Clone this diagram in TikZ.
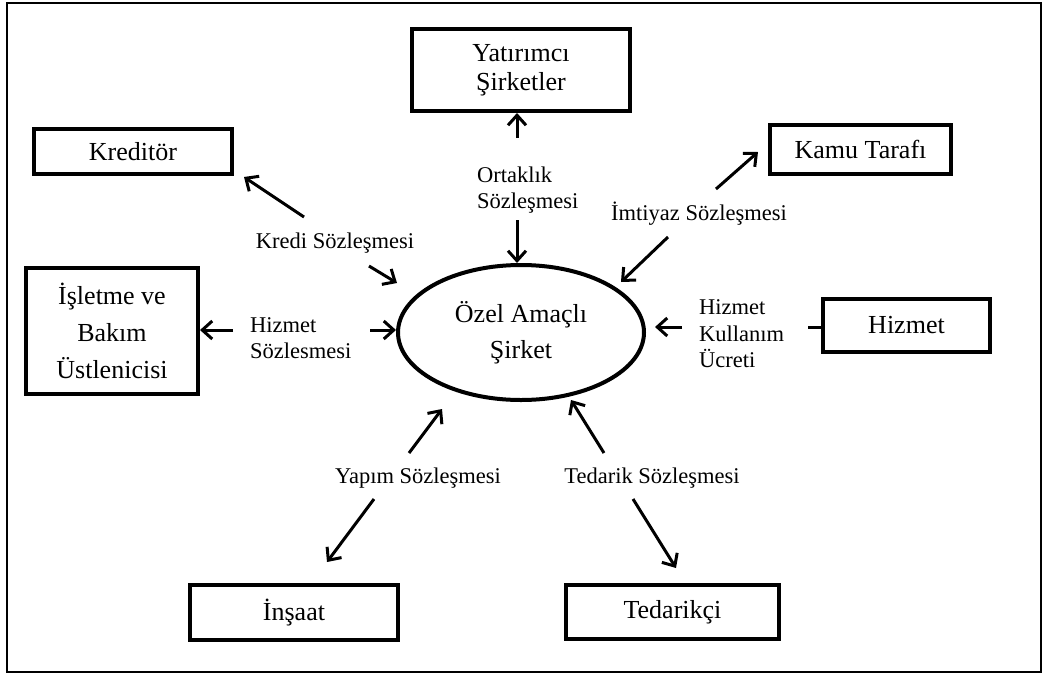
\documentclass[tikz,border=0pt]{standalone}
\usepackage{fontspec}
\setmainfont{Liberation Serif}
\usetikzlibrary{arrows.meta,shapes.geometric}
\tikzset{
  party/.style={draw, line width=4pt, rectangle, inner sep=0pt, align=center,
    font=\fontsize{26}{29}\selectfont},
  hub/.style={draw, line width=4pt, ellipse, inner sep=0pt, align=center,
    minimum width=246pt, minimum height=135pt, font=\fontsize{26}{36}\selectfont},
  lbl/.style={inner sep=0pt, font=\fontsize{22.5}{26.5}\selectfont},
  arr/.style={line width=3pt, -{Straight Barb[length=10pt,width=18pt]}},
  stub/.style={line width=3pt}
}
\begin{document}
\begin{tikzpicture}[x=1pt,y=-1pt]
\useasboundingbox (0,0) rectangle (1047,675);
\draw[line width=2pt] (7,3) rectangle (1041,672);

% nodes
\node[hub] (ell) at (521,332.5) {Özel Amaçlı\\Şirket};
\node[party, minimum width=218pt, minimum height=82pt] (yat) at (521,70) {Yatırımcı\\Şirketler};
\node[party, minimum width=198pt, minimum height=45pt] (kred) at (133,151.5) {Kreditör};
\node[party, minimum width=181pt, minimum height=49pt] (kamu) at (860.5,149.5) {Kamu Tarafı};
\node[party, minimum width=172pt, minimum height=126pt, font=\fontsize{26}{37}\selectfont] (isl) at (112,331) {İşletme ve\\Bakım\\Üstlenicisi};
\node[party, minimum width=167pt, minimum height=53pt] (hiz) at (906.5,325.5) {Hizmet};
\node[party, minimum width=208pt, minimum height=55pt] (ins) at (294,612.5) {İnşaat};
\node[party, minimum width=213pt, minimum height=54pt] (ted) at (672.5,612) {Tedarikçi};

% labels
\node[lbl, align=left, anchor=west] (lort) at (477,190) {Ortaklık\\Sözleşmesi};
\node[lbl, anchor=base] (lkre) at (335,248) {Kredi Sözleşmesi};
\node[lbl, anchor=base] (limt) at (699,220) {İmtiyaz Sözleşmesi};
\node[lbl, align=left, anchor=west] (lhs) at (250,338) {Hizmet\\Sözlesmesi};
\node[lbl, align=left, anchor=west] (lhk) at (699,334) {Hizmet\\Kullanım\\Ücreti};
\node[lbl, anchor=base] (lyap) at (418,483) {Yapım Sözleşmesi};
\node[lbl, anchor=base] (lted) at (652,483) {Tedarik Sözleşmesi};

% connector ends
\coordinate (o1) at (517,138);
\coordinate (o2) at (517,220);
\coordinate (k1) at (304,217);
\coordinate (k1t) at (244,177);
\coordinate (k2) at (369,266);
\coordinate (k2t) at (397,283);
\coordinate (m1) at (716,189);
\coordinate (m1t) at (758,152);
\coordinate (m2) at (668,237);
\coordinate (m2t) at (621,282);
\coordinate (h1) at (233,330);
\coordinate (h2) at (370,330);
\coordinate (s1) at (808,327);
\coordinate (u1) at (682,327);
\coordinate (u1t) at (655,327);
\coordinate (y1) at (409,453);
\coordinate (y1t) at (442,409);
\coordinate (y2) at (374,499);
\coordinate (y2t) at (327,562);
\coordinate (t1) at (604,453);
\coordinate (t1t) at (571,400);
\coordinate (t2) at (633,499);
\coordinate (t2t) at (676,568);

% connectors
\draw[arr] (o1) -- (o1 |- yat.south);
\draw[arr] (o2) -- (o2 |- ell.north);
\draw[arr] (k1) -- (k1t);
\draw[arr] (k2) -- (k2t);
\draw[arr] (m1) -- (m1t);
\draw[arr] (m2) -- (m2t);
\draw[arr] (h1) -- (h1 -| isl.east);
\draw[arr] (h2) -- (h2 -| ell.west);
\draw[stub] (s1) -- (s1 -| hiz.west);
\draw[arr] (u1) -- (u1t);
\draw[arr] (y1) -- (y1t);
\draw[arr] (y2) -- (y2t);
\draw[arr] (t1) -- (t1t);
\draw[arr] (t2) -- (t2t);
\end{tikzpicture}
\end{document}
